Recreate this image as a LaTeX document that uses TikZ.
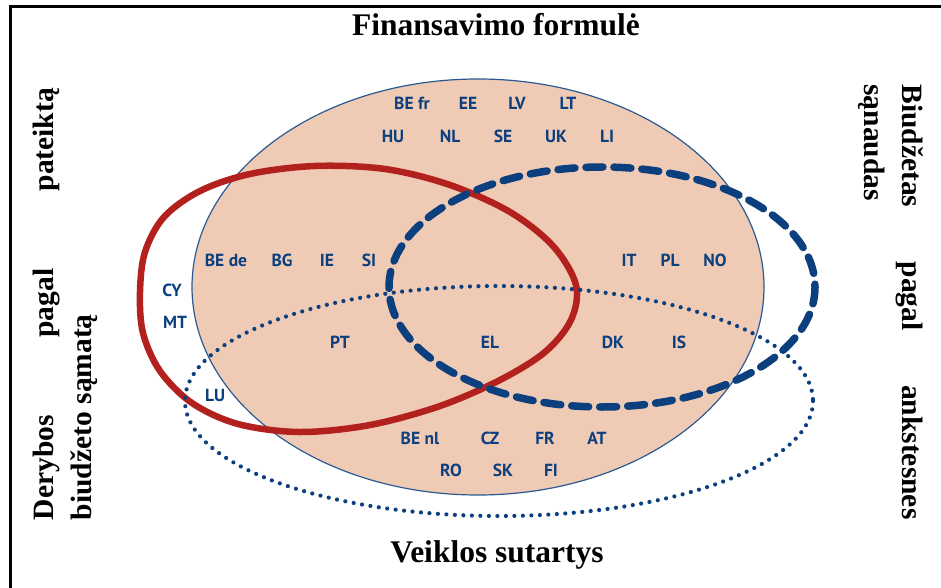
\documentclass[tikz,border=0pt]{standalone}
\usepackage{fontspec}
\setmainfont{Liberation Serif}
\newfontfamily\labfont{PT Sans}
\definecolor{salmon}{HTML}{EFCBB6}
\definecolor{rimblue}{HTML}{2A5A92}
\definecolor{navy}{HTML}{0B3F7E}
\definecolor{redline}{HTML}{B3211E}
\begin{document}
\begin{tikzpicture}[x=1pt,y=-1pt,
  cc/.style={font=\labfont\bfseries\fontsize{17.5}{17.5}\selectfont, text=navy, inner sep=0pt},
  title/.style={font=\bfseries\fontsize{31.5}{36}\selectfont, inner sep=0pt},
  side/.style={font=\bfseries\fontsize{29.5}{38}\selectfont, inner sep=0pt, align=left},
  frameline/.style={line width=3pt, black},
  bigset/.style={fill=salmon, draw=rimblue, line width=1.2pt},
  redset/.style={draw=redline, line width=6.5pt},
  dashset/.style={draw=navy, line width=7.5pt, dash pattern=on 17pt off 11pt, line cap=round},
  dotset/.style={draw=navy, line width=4.2pt, dash pattern=on 0pt off 8.5pt, line cap=round}]
\useasboundingbox (0,0) rectangle (941,588);
% frame
\coordinate (fa) at (941,7);
\coordinate (fb) at (10,7);
\coordinate (fc) at (10,588);
\draw[frameline] (fa) -- (fb) -- (fc);
% sets
\draw[bigset] (478,287) ellipse [x radius=286, y radius=208];
\draw[redset] plot[smooth cycle, tension=0.55] coordinates {(140,292) (145,252) (164,217) (200,191) (250,174) (315,166) (385,169) (450,185) (510,212) (553,246) (576,285) (571,320) (545,352) (500,380) (440,406) (370,425) (300,432) (238,424) (192,403) (160,371) (143,333)};
\draw[dashset] (602,287) ellipse [x radius=213, y radius=120];
\draw[dotset] (499,401) ellipse [x radius=314, y radius=115];
% titles
\node[title] (top) at (496,25) {Finansavimo formulė};
\node[title] (bot) at (497,555) {Veiklos sutartys};
\node[side, rotate=90] (left) at (65,304) {\hbox to 432pt{Derybos\hfill pagal\hfill pateiktą}\\biudžeto sąmatą};
\node[side, rotate=-90] (right) at (891,302) {\hbox to 435pt{Biudžetas\hfill pagal\hfill ankstesnes}\\sąnaudas};
% country labels
\node[cc] (befr) at (412,103) {BE fr};
\node[cc] (ee) at (468,103) {EE};
\node[cc] (lv) at (517,103) {LV};
\node[cc] (lt) at (568,103) {LT};
\node[cc] (hu) at (393,136) {HU};
\node[cc] (nl) at (450,136) {NL};
\node[cc] (se) at (503,136) {SE};
\node[cc] (uk) at (556,136) {UK};
\node[cc] (li) at (607,136) {LI};
\node[cc] (bede) at (226,260) {BE de};
\node[cc] (bg) at (282,260) {BG};
\node[cc] (ie) at (327,260) {IE};
\node[cc] (si) at (369,260) {SI};
\node[cc] (it) at (629,260) {IT};
\node[cc] (pl) at (670,260) {PL};
\node[cc] (no) at (715,260) {NO};
\node[cc] (cy) at (172,290) {CY};
\node[cc] (mt) at (175,322) {MT};
\node[cc] (pt) at (340,342) {PT};
\node[cc] (el) at (490,342) {EL};
\node[cc] (dk) at (613,342) {DK};
\node[cc] (is) at (679,342) {IS};
\node[cc] (lu) at (215,395) {LU};
\node[cc] (benl) at (420,438) {BE nl};
\node[cc] (cz) at (490,438) {CZ};
\node[cc] (fr) at (545,438) {FR};
\node[cc] (at) at (597,438) {AT};
\node[cc] (ro) at (451,470) {RO};
\node[cc] (sk) at (503,470) {SK};
\node[cc] (fi) at (551,470) {FI};
\end{tikzpicture}
\end{document}
